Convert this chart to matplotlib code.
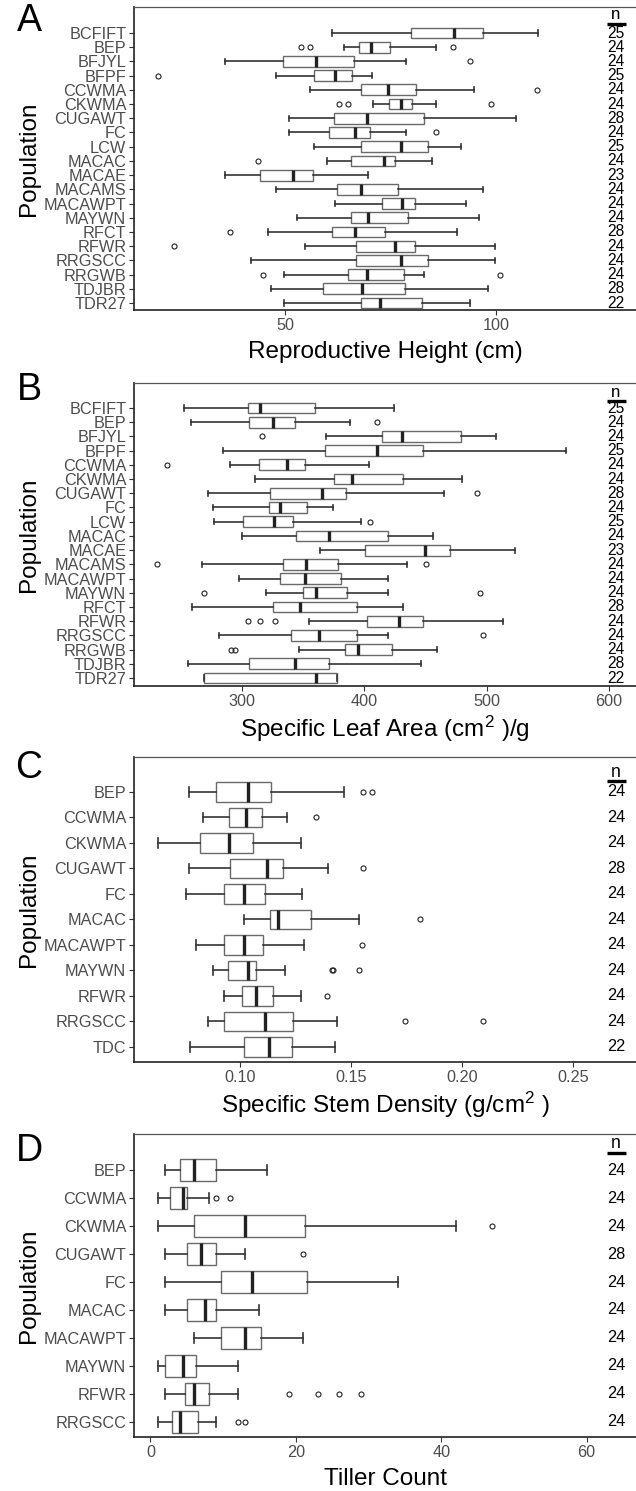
import matplotlib
matplotlib.use("Agg")
import matplotlib.pyplot as plt
from matplotlib import font_manager
import matplotlib.transforms as mtransforms

# ---------------- data ----------------
popsAB = ['BCFIFT', 'BEP', 'BFJYL', 'BFPF', 'CCWMA', 'CKWMA', 'CUGAWT', 'FC', 'LCW',
          'MACAC', 'MACAE', 'MACAMS', 'MACAWPT', 'MAYWN', 'RFCT', 'RFWR', 'RRGSCC',
          'RRGWB', 'TDJBR', 'TDR27']
nA = [25, 24, 24, 25, 24, 24, 28, 24, 25, 24, 23, 24, 24, 24, 28, 24, 24, 24, 28, 22]
loA = [61.0, 64.0, 35.7, 47.8, 55.9, 70.8, 50.9, 50.9, 56.8, 59.9, 35.7, 47.8, 61.8, 52.9, 45.8, 54.7, 41.8, 49.8, 46.7, 49.8]
q1A = [79.9, 67.6, 49.4, 56.8, 67.9, 74.7, 61.6, 60.4, 67.9, 65.6, 44.0, 62.3, 72.9, 65.6, 61.1, 66.7, 66.9, 64.8, 58.9, 67.9]
medA = [90.0, 70.3, 57.4, 61.9, 74.4, 77.5, 69.4, 66.6, 77.5, 73.4, 51.8, 67.9, 77.7, 69.7, 66.6, 76.0, 77.5, 69.4, 68.3, 72.4]
q3A = [96.9, 75.0, 66.3, 65.8, 81.1, 80.2, 82.9, 70.2, 83.8, 76.1, 56.7, 76.9, 80.8, 79.1, 73.8, 80.8, 83.8, 78.1, 78.4, 82.6]
hiA = [110.0, 85.8, 78.8, 70.7, 94.8, 85.8, 104.9, 78.8, 91.8, 84.9, 69.7, 96.9, 92.9, 96.0, 90.9, 99.8, 99.8, 82.9, 98.1, 93.8]
outA = [[], [53.8, 55.8, 89.9], [93.8], [19.7], [109.9], [62.8, 64.8, 98.9], [], [85.8], [], [43.6],
        [], [], [], [], [36.8], [23.7], [], [44.7, 100.9], [], []]

nB = [25, 24, 24, 25, 24, 24, 28, 24, 25, 24, 23, 24, 24, 24, 28, 24, 24, 24, 28, 22]
loB = [253.3, 258.3, 369.2, 284.8, 290.4, 310.9, 272.2, 276.8, 277.5, 300.0, 363.9, 267.5, 298.0, 320.2, 259.6, 355.0, 281.1, 347.0, 256.3, 268.9]
q1B = [305.3, 305.6, 414.9, 367.9, 314.2, 375.2, 323.5, 322.5, 300.7, 344.4, 400.7, 333.4, 331.5, 349.7, 325.2, 402.3, 340.4, 384.4, 305.6, 268.9]
medB = [314.6, 325.2, 431.1, 410.9, 336.8, 390.4, 365.9, 331.5, 326.8, 371.5, 449.7, 352.3, 351.7, 360.6, 347.7, 428.1, 363.2, 395.0, 343.7, 360.6]
q3B = [359.6, 343.4, 479.1, 448.3, 352.0, 431.5, 385.4, 353.6, 342.1, 419.9, 470.2, 378.8, 381.5, 386.4, 394.4, 448.0, 394.0, 422.8, 371.5, 377.5]
hiB = [424.2, 388.4, 507.6, 564.6, 403.6, 479.8, 465.6, 374.8, 397.4, 456.3, 522.8, 434.8, 419.9, 419.9, 432.1, 513.6, 419.9, 459.9, 446.4, 377.5]
outB = [[], [410.9], [316.6], [], [239.4], [], [492.1], [], [405.0], [], [],
        [231.1, 450.3], [], [268.9, 495.0], [], [305.0, 314.6, 327.2], [497.4], [291.7, 294.7], [], []]

popsC = ['BEP', 'CCWMA', 'CKWMA', 'CUGAWT', 'FC', 'MACAC', 'MACAWPT', 'MAYWN', 'RFWR', 'RRGSCC', 'TDC']
nC = [24, 24, 24, 28, 24, 24, 24, 24, 24, 24, 22]
loC = [0.0770, 0.0834, 0.0631, 0.0770, 0.0759, 0.1018, 0.0805, 0.0881, 0.0931, 0.0859, 0.0776]
q1C = [0.0891, 0.0951, 0.0823, 0.0958, 0.0929, 0.1137, 0.0927, 0.0949, 0.1009, 0.0931, 0.1020]
medC = [0.1038, 0.1029, 0.0951, 0.1124, 0.1020, 0.1173, 0.1020, 0.1036, 0.1075, 0.1115, 0.1130]
q3C = [0.1139, 0.1102, 0.1058, 0.1195, 0.1115, 0.1321, 0.1106, 0.1073, 0.1151, 0.1239, 0.1235]
hiC = [0.1471, 0.1214, 0.1276, 0.1398, 0.1281, 0.1535, 0.1290, 0.1206, 0.1277, 0.1440, 0.1427]
outC = [[0.1555, 0.1597], [0.1345], [], [0.1557], [], [0.1810], [0.1551],
        [0.1414, 0.1422, 0.1536], [0.1391], [0.1746, 0.2095], []]

popsD = ['BEP', 'CCWMA', 'CKWMA', 'CUGAWT', 'FC', 'MACAC', 'MACAWPT', 'MAYWN', 'RFWR', 'RRGSCC']
nD = [24, 24, 24, 28, 24, 24, 24, 24, 24, 24]
loD = [2, 1, 1, 2, 2, 2, 6, 1, 2, 1]
q1D = [4, 2.75, 6, 5, 9.75, 5, 9.75, 2, 4.75, 3]
medD = [6, 4.5, 13, 7, 14, 7.5, 13, 4.5, 6, 4]
q3D = [9, 5, 21.25, 9, 21.5, 9, 15.25, 6.25, 8, 6.5]
hiD = [16, 8, 42, 13, 34, 15, 21, 12, 12, 9]
outD = [[], [9, 11], [47], [21], [], [], [], [], [19, 23, 26, 29], [12, 13]]

# ---------------- style ----------------
avail = {f.name for f in font_manager.fontManager.ttflist}
BASE = 'Liberation Sans' if 'Liberation Sans' in avail else 'DejaVu Sans'
plt.rcParams['font.family'] = [BASE, 'DejaVu Sans']
plt.rcParams['mathtext.fontset'] = 'custom'
plt.rcParams['mathtext.rm'] = BASE
plt.rcParams['mathtext.it'] = BASE

W, H = 636, 1491
fig = plt.figure(figsize=(W / 100, H / 100), dpi=100)


def make_axes(left, top, right, bottom):
    return fig.add_axes([left / W, 1 - bottom / H, (right - left) / W, (bottom - top) / H])


def panel(box, pops, lo, q1, med, q3, hi, out, ns, xlim, top_pad, bot_pad, xticks, xticklabels,
          xlabel, letter, letter_y, nhead_y, nline_y, nsize, width=0.76):
    ax = make_axes(*box)
    stats = []
    for i in range(len(pops)):
        stats.append(dict(med=med[i], q1=q1[i], q3=q3[i], whislo=lo[i], whishi=hi[i],
                          fliers=out[i], label=pops[i]))
    kw = dict(positions=list(range(len(pops))), widths=width, patch_artist=True,
              boxprops=dict(facecolor='white', edgecolor='#6a6a6a', linewidth=1.0),
              whiskerprops=dict(color='#333333', linewidth=1.2),
              capprops=dict(color='#333333', linewidth=1.2),
              medianprops=dict(color='#222222', linewidth=2.4, solid_capstyle='butt'),
              flierprops=dict(marker='o', markersize=3.6, markerfacecolor='none',
                              markeredgecolor='#222222', markeredgewidth=0.8),
              capwidths=0.37, manage_ticks=False)
    try:
        ax.bxp(stats, orientation='horizontal', **kw)
    except TypeError:
        ax.bxp(stats, vert=False, **kw)
    ax.set_ylim(len(pops) - 1 + bot_pad, -top_pad)
    ax.set_xlim(*xlim)
    ax.set_yticks(range(len(pops)))
    ax.set_yticklabels(pops, fontsize=11.7, color='#4d4d4d')
    ax.set_xticks(xticks)
    ax.set_xticklabels(xticklabels, fontsize=11.7, color='#4d4d4d')
    ax.tick_params(axis='both', length=3.5, width=0.8, color='#333333', pad=2)
    ax.spines['right'].set_visible(False)
    ax.spines['top'].set_color('#555555')
    ax.spines['top'].set_linewidth(0.9)
    for s in ['left', 'bottom']:
        ax.spines[s].set_color('#222222')
        ax.spines[s].set_linewidth(1.2)
    ax.set_xlabel(xlabel, fontsize=17.5)
    ax.xaxis.set_label_coords(0.5, -0.14 * 303 / (box[3] - box[1]), transform=ax.transAxes)
    ax.set_ylabel('Population', fontsize=17.5)
    ax.yaxis.set_label_coords(-(box[0] - 29) / (box[2] - box[0]), 0.5)
    ax.yaxis.label.set_verticalalignment('center')
    ax.xaxis.label.set_verticalalignment('center')
    # n column
    tr = mtransforms.blended_transform_factory(ax.transAxes, ax.transData)
    xn = (616 - box[0]) / (box[2] - box[0])
    for i, v in enumerate(ns):
        ax.text(xn, i, str(v), transform=tr, ha='center', va='center', fontsize=nsize,
                color='black')
    ax.text(xn, nhead_y, 'n', transform=tr, ha='center', va='center', fontsize=nsize + 1,
            color='black')
    dx = 9.5 / (box[2] - box[0])
    ax.plot([xn - dx, xn + dx], [nline_y, nline_y], transform=tr, color='black', lw=2.4,
            clip_on=False, solid_capstyle='butt')
    fig.text(29 / W, 1 - letter_y / H, letter, fontsize=27, ha='center', va='center')
    return ax


panel((134, 7, 636, 310), popsAB, loA, q1A, medA, q3A, hiA, outA, nA, (14.1, 133.3), 1.83, 0.49,
      [50, 100], ['50', '100'], 'Reproductive Height (cm)', 'A', 21, -1.27, -0.63, 11.2)

panel((134, 383, 636, 686), popsAB, loB, q1B, medB, q3B, hiB, outB, nB, (212.1, 622.0), 1.76, 0.56,
      [300, 400, 500, 600], ['300', '400', '500', '600'],
      'Specific Leaf Area (cm$^{2}$ )/g', 'B', 390, -1.06, -0.51, 11.2)

panel((134, 757, 636, 1062), popsC, loC, q1C, medC, q3C, hiC, outC, nC, (0.0524, 0.2784), 1.37, 0.59,
      [0.10, 0.15, 0.20, 0.25], ['0.10', '0.15', '0.20', '0.25'],
      'Specific Stem Density (g/cm$^{2}$ )', 'C', 768, -0.78, -0.43, 11.7)

panel((134, 1134, 636, 1437), popsD, loD, q1D, medD, q3D, hiD, outD, nD, (-2.26, 66.8), 1.29, 0.54,
      [0, 20, 40, 60], ['0', '20', '40', '60'], 'Tiller Count', 'D', 1151, -0.96, -0.61, 11.7)

fig.savefig('out.png', dpi=100)
